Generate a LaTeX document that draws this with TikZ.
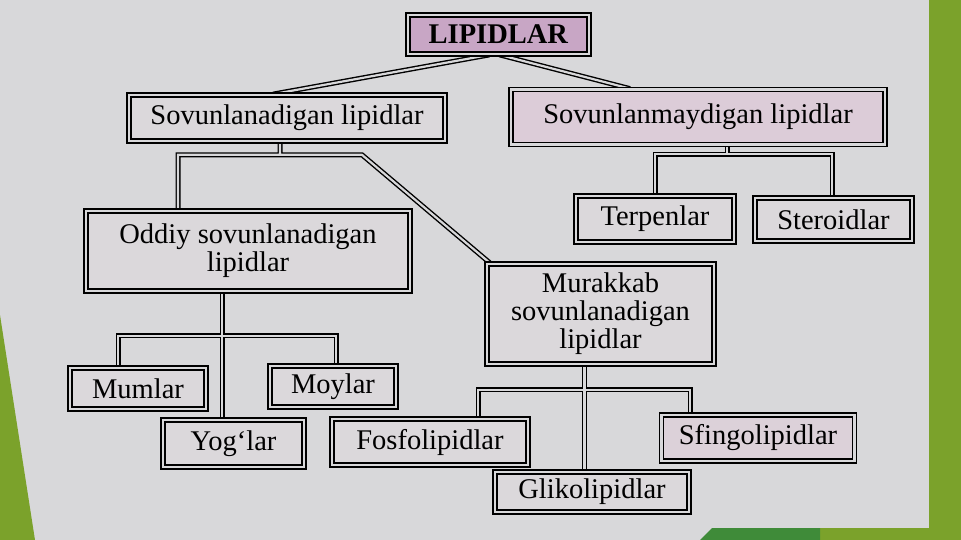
\documentclass[tikz,border=0pt]{standalone}
\usepackage{fontspec}
\setmainfont{Liberation Serif}
\usetikzlibrary{calc, positioning, backgrounds}
\definecolor{bg}{HTML}{D8D8DA}
\definecolor{boxfill}{HTML}{DBD8DB}
\definecolor{topfill}{HTML}{C8A6C5}
\definecolor{pinkfill}{HTML}{DCCCD8}
\definecolor{lgreen}{HTML}{7BA22B}
\definecolor{dgreen}{HTML}{3F8B39}

\tikzset{
	lbox/.style={draw=black, line width=1.7pt, double=bg, double distance=2.2pt,
		fill=boxfill, inner sep=0pt, align=center,
		font=\fontsize{28.5}{28}\selectfont},
	link/.style={draw=black, line width=1.4pt, double=bg, double distance=2.2pt}
}

\begin{document}
\begin{tikzpicture}[x=1pt, y=-1pt]
	\useasboundingbox (0,0) rectangle (961,540);
	
	% boxes
	\node[lbox, fill=topfill, minimum width=181, minimum height=39] (lip) at (498.5,34.5) {\textbf{LIPIDLAR}};
	\node[lbox, minimum width=316, minimum height=46] (sov) at (287,118) {Sovunlanadigan lipidlar};
	\node[lbox, fill=pinkfill, minimum width=374, minimum height=55] (smay) at (698,117) {Sovunlanmaydigan lipidlar};
	\node[lbox, minimum width=158, minimum height=46] (terp) at (655,219) {Terpenlar};
	\node[lbox, minimum width=157, minimum height=43] (ster) at (833.5,219.5) {Steroidlar};
	\node[lbox, minimum width=324, minimum height=80] (odd) at (248,251) {Oddiy sovunlanadigan\\lipidlar};
	\node[lbox, minimum width=227, minimum height=100] (mur) at (600.5,314) {Murakkab\\sovunlanadigan\\lipidlar};
	\node[lbox, minimum width=136, minimum height=41] (mum) at (138,388.5) {Mumlar};
	\node[lbox, minimum width=126, minimum height=41] (moy) at (333,386.5) {Moylar};
	\node[lbox, minimum width=141, minimum height=47] (yog) at (233.5,443.5) {Yog‘lar};
	\node[lbox, minimum width=196, minimum height=46] (fos) at (430,442) {Fosfolipidlar};
	\node[lbox, minimum width=194, minimum height=40] (gli) at (592,492) {Glikolipidlar};
	\node[lbox, fill=pinkfill!60!boxfill, minimum width=193, minimum height=46] (sfi) at (758,438) {Sfingolipidlar};
	
	% page
	\begin{scope}[on background layer]
		\fill[bg] (0,0) rectangle (961,540);
		\fill[lgreen] (929,0) rectangle (961,540);
		\fill[lgreen] (0,315) -- (35,540) -- (0,540) -- cycle;
		\fill[lgreen] (820,528) rectangle (961,540);
		\fill[dgreen] (712,528) -- (820,528) -- (820,540) -- (700,540) -- cycle;
	\end{scope}
	
	% links
	\begin{scope}[on background layer]
		\coordinate (sovj) at ($(sov.south)+(-7,13)$);
		\coordinate (oddo) at ($(odd.south)+(-26,0)$);
		\coordinate (muro) at ($(mur.south)+(-16,0)$);
		
		\draw[link] ($(lip.south)+(-9,0)$) -- ($(sov.north)+(-14,0)$)
			($(lip.south)+(1,0)$) -- ($(smay.north)+(-68,0)$);
		
		\draw[link] ($(sov.south)+(-7,0)$) -- (sovj)
			($(odd.north)+(-70,0)$) |- ($(sovj)+(82,0)$) -- ($(mur.north west)+(4,0)$);
		
		\draw[link] ($(smay.south)+(29,0)$) -- ++(0,9)
			(terp.north) |- ($(smay.south)+(29,9)$) -| ($(ster.north)+(-1.5,0)$);
		
		\draw[link] (oddo) -- (oddo |- yog.north)
			($(mum.north)+(-20,0)$) |- ($(odd.south)+(0,44)$) -| ($(moy.north)+(3,0)$);
		
		\draw[link] (muro) -- (muro |- gli.north)
			($(fos.north)+(48,0)$) |- ($(mur.south)+(0,25)$) -| ($(sfi.north)+(-68,0)$);
	\end{scope}
\end{tikzpicture}
\end{document}
